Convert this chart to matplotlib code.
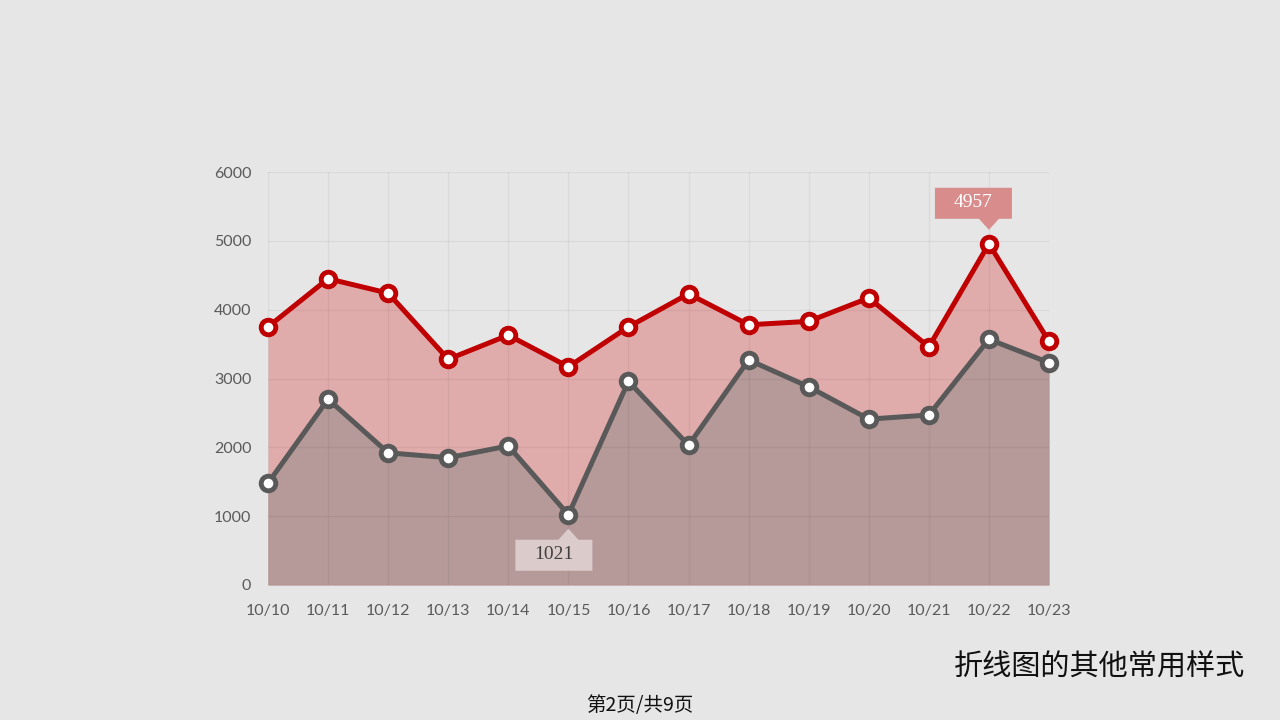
import matplotlib.pyplot as plt
import matplotlib.transforms as mtransforms
from matplotlib.patches import Polygon

# data
dates = ['10/10', '10/11', '10/12', '10/13', '10/14', '10/15', '10/16',
         '10/17', '10/18', '10/19', '10/20', '10/21', '10/22', '10/23']
red_vals = [3750, 4450, 4240, 3280, 3630, 3170, 3750,
            4230, 3780, 3830, 4170, 3460, 4957, 3540]
gray_vals = [1480, 2700, 1920, 1850, 2020, 1021, 2960,
             2030, 3270, 2880, 2410, 2470, 3570, 3230]
y_ticks = [0, 1000, 2000, 3000, 4000, 5000, 6000]

bg = '#E6E6E6'
fig = plt.figure(figsize=(12.8, 7.2), dpi=100, facecolor=bg)
ax = fig.add_axes([268 / 1280, 1 - 585 / 720, 781 / 1280, 413 / 720])
ax.set_facecolor(bg)

x = list(range(len(dates)))

ax.fill_between(x, 0, red_vals, color='#E0ABAB', zorder=1, lw=0)
ax.fill_between(x, 0, gray_vals, color='#B69999', zorder=2, lw=0)

for yt in y_ticks:
    ax.axhline(yt, color=(0, 0, 0, 0.05), lw=0.9, zorder=3)
for xi in x:
    ax.axvline(xi, color=(0, 0, 0, 0.05), lw=0.9, zorder=3)

ax.plot(x, red_vals, color='#C00000', lw=3.6, marker='o', ms=10.5,
        mfc='white', mec='#C00000', mew=3.5, zorder=5, clip_on=False)
ax.plot(x, gray_vals, color='#595959', lw=3.6, marker='o', ms=10.5,
        mfc='white', mec='#595959', mew=3.5, zorder=5, clip_on=False)

ax.set_xlim(0, len(dates) - 1)
ax.set_ylim(0, 6000)
ax.set_xticks(x)
ax.set_xticklabels(dates)
ax.set_yticks(y_ticks)
for s in ax.spines.values():
    s.set_visible(False)
ax.tick_params(length=0, colors='#5a5a5a', labelsize=11.5)
ax.tick_params(axis='x', pad=14)
ax.tick_params(axis='y', pad=12)
for lab in ax.get_xticklabels() + ax.get_yticklabels():
    lab.set_fontfamily('Lato')


def callout(xi, yv, pts, text_xy, label, fc, tc):
    # shape in pixel offsets (1/100 inch) from the data point
    trans = fig.dpi_scale_trans + mtransforms.ScaledTranslation(xi, yv, ax.transData)
    poly = Polygon([(px / 100, py / 100) for px, py in pts], closed=True,
                   fc=fc, ec='none', transform=trans, zorder=6, clip_on=False)
    ax.add_patch(poly)
    ax.text(text_xy[0] / 100, text_xy[1] / 100, label, transform=trans,
            ha='center', va='center', fontsize=14, color=tc,
            family='Liberation Serif', zorder=7)


i_max = red_vals.index(max(red_vals))
callout(i_max, red_vals[i_max],
        [(-54, 25), (-10, 25), (0, 14), (10, 25), (23, 25), (23, 56),
         (-54, 56)],
        (-15.5, 41), str(red_vals[i_max]), '#D98C8C', 'white')

i_min = gray_vals.index(min(gray_vals))
callout(i_min, gray_vals[i_min],
        [(-53, -25), (-10, -25), (0, -14), (10, -25), (24, -25), (24, -56),
         (-53, -56)],
        (-14.5, -40), str(gray_vals[i_min]), '#DCCBCB', '#404040')

fig.text(1245 / 1280, 1 - 668 / 720, '折线图的其他常用样式', ha='right', va='center',
         fontsize=21, color='#111111', family=['Noto Sans CJK SC', 'DejaVu Sans'])
fig.text(640 / 1280, 1 - 705 / 720, '第2页/共9页', ha='center', va='center',
         fontsize=14, color='#111111', family=['Noto Sans CJK SC', 'DejaVu Sans'])

fig.savefig('out.png', dpi=100, facecolor=bg)
